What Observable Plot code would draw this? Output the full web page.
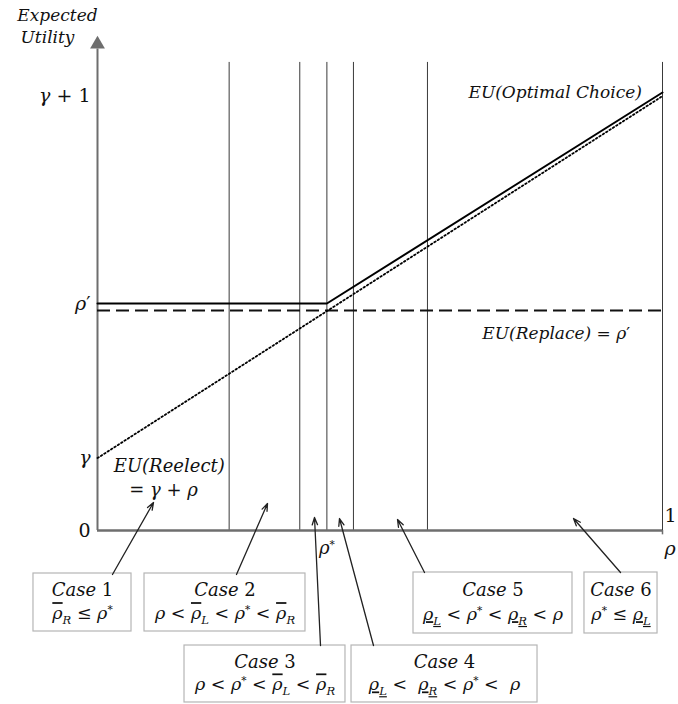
<!DOCTYPE html>
<html>
<head>
<meta charset="utf-8">
<script src="https://cdn.jsdelivr.net/npm/d3@7"></script>
<script src="https://cdn.jsdelivr.net/npm/@observablehq/plot@0.6"></script>
<style>
  html, body { margin: 0; padding: 0; background: #fff; overflow: hidden; }
  svg { display: block; }
</style>
</head>
<body>
<div id="chart"></div>
<script>
// ---- data (ρ on x, expected utility on y) ----
const thresholds = [0.233, 0.358, 0.406, 0.453, 0.584, 1.0];
const rhoStar = 0.406;
const gammaVal = 0.2;
const rhoPrime = 0.608;
const optimalX = [0, 0.406, 1];
const optimalY = [0.627, 0.627, 1.21];
const reelectX = [0, 1];
const reelectY = [0.2, 1.2];
const yTickValues = [0, 0.2, 0.627, 1.2];
const yTickLabels = ["{n|0}", "γ", "ρ{n|′}", "γ {n|+ 1}"];

// case annotation boxes
const caseNames = ["Case {n|1}", "Case {n|2}", "Case {n|3}", "Case {n|4}", "Case {n|5}", "Case {n|6}"];
const caseConds = [
  "{o|ρ}{s|R} ≤ ρ{p|*}",
  "ρ < {o|ρ}{s|L} < ρ{p|*} < {o|ρ}{s|R}",
  "ρ < ρ{p|*} < {o|ρ}{s|L} < {o|ρ}{s|R}",
  "{u|ρ}{us|L} <  {u|ρ}{us|R} < ρ{p|*} <  ρ",
  "{u|ρ}{us|L} < ρ{p|*} < {u|ρ}{us|R} < ρ",
  "ρ{p|*} ≤ {u|ρ}{us|L}"
];
const boxX1 = [-0.1133, 0.0832, 0.1540, 0.4496, 0.5593, 0.8619];
const boxX2 = [0.0602, 0.3681, 0.4389, 0.7788, 0.8407, 0.9912];
const boxY1 = [-0.1188, -0.1188, -0.3177, -0.3177, -0.1160, -0.1160];
const boxY2 = [-0.2790, -0.2790, -0.4751, -0.4751, -0.2845, -0.2845];
const arrowFromX = [0.0265, 0.2460, 0.3947, 0.4885, 0.5788, 0.9257];
const arrowFromY = [-0.1215, -0.1215, -0.3177, -0.3177, -0.1160, -0.1160];
const arrowToX = [0.0991, 0.3009, 0.3841, 0.4283, 0.5310, 0.8425];
const arrowToY = [0.0773, 0.0746, 0.0359, 0.0331, 0.0304, 0.0331];

// ---- build tables ----
const optimal = optimalX.map((x, i) => ({x, y: optimalY[i]}));
const reelect = reelectX.map((x, i) => ({x, y: reelectY[i]}));
const yTicks = yTickValues.map((v, i) => ({v, label: yTickLabels[i]}));
const cases = caseNames.map((name, i) => {
  const top = boxY1[i];
  const rowH = boxY1[i] - boxY2[i];
  return {
    name, cond: caseConds[i],
    x1: boxX1[i], x2: boxX2[i], y1: boxY1[i], y2: boxY2[i],
    cx: (boxX1[i] + boxX2[i]) / 2,
    l1: top - rowH * 0.29, l2: top - rowH * 0.69,
    ax1: arrowFromX[i], ay1: arrowFromY[i], ax2: arrowToX[i], ay2: arrowToY[i]
  };
});

const FONT = "DejaVu Serif";
const FS = 17;
const axisGrey = "#6e6e6e";

const plot = Plot.plot({
  width: 678,
  height: 704,
  marginTop: 0, marginRight: 0, marginBottom: 0, marginLeft: 0,
  x: {domain: [-97 / 565, 581 / 565], axis: null},
  y: {domain: [-174 / 362, 530 / 362], axis: null},
  style: {background: "#fff", fontFamily: FONT},
  marks: [
    // threshold verticals
    Plot.ruleX(thresholds, {x: d => d, y1: 0, y2: 1.293, stroke: "#3a3a3a", strokeWidth: 1}),
    // axes
    Plot.ruleX([0], {y1: 0, y2: 1.33, stroke: axisGrey, strokeWidth: 2}),
    Plot.dot([0], {x: 0, y: 1.343, symbol: "triangle", r: 5.5, fill: axisGrey, stroke: "none"}),
    Plot.ruleY([0], {x1: 0, x2: 1, stroke: axisGrey, strokeWidth: 2.5}),
    Plot.ruleX([1], {y1: -0.012, y2: 0, stroke: axisGrey, strokeWidth: 1.5}),
    // curves
    Plot.ruleY([rhoPrime], {x1: 0, x2: 1, stroke: "#111", strokeWidth: 2, strokeDasharray: "13,6"}),
    Plot.line(reelect, {x: "x", y: "y", stroke: "#000", strokeWidth: 1.8, strokeDasharray: "1.6,2.4"}),
    Plot.line(optimal, {x: "x", y: "y", stroke: "#000", strokeWidth: 2}),
    // y tick labels
    Plot.text(yTicks, {x: -0.0124, y: "v", text: "label", textAnchor: "end", fontSize: 19, fontStyle: "italic", fill: "#111"}),
    // x-axis labels
    Plot.text(["{n|1}"], {x: 1.0035, y: 0.041, text: d => d, textAnchor: "start", fontSize: 19, fill: "#111"}),
    Plot.text(["ρ"], {x: 1.0035, y: -0.05, text: d => d, textAnchor: "start", fontSize: 19, fontStyle: "italic", fill: "#111"}),
    Plot.text(["ρ{p|*}"], {x: rhoStar, y: -0.05, text: d => d, textAnchor: "middle", fontSize: 18, fontStyle: "italic", fill: "#111"}),
    // y axis title
    Plot.text(["Expected"], {x: -0.0708, y: 1.4227, text: d => d, fontSize: FS, fontStyle: "italic", fill: "#111"}),
    Plot.text(["Utility"], {x: -0.0885, y: 1.362, text: d => d, fontSize: FS, fontStyle: "italic", fill: "#111"}),
    // curve labels
    Plot.text(["EU(Optimal Choice)"], {x: 0.6566, y: 1.21, text: d => d, textAnchor: "start", fontSize: FS, fontStyle: "italic", fill: "#111"}),
    Plot.text(["EU(Replace) = ρ{n|′}"], {x: 0.681, y: 0.544, text: d => d, textAnchor: "start", fontSize: FS, fontStyle: "italic", fill: "#111"}),
    Plot.text(["EU(Reelect)"], {x: 0.127, y: 0.177, text: d => d, textAnchor: "middle", fontSize: 18, fontStyle: "italic", fill: "#111"}),
    Plot.text(["= γ + ρ"], {x: 0.117, y: 0.11, text: d => d, textAnchor: "middle", fontSize: 18, fontStyle: "italic", fill: "#111"}),
    // case boxes and arrows
    Plot.rect(cases, {x1: "x1", x2: "x2", y1: "y1", y2: "y2", fill: "#fff", stroke: "#b5b5b5", strokeWidth: 1.2}),
    Plot.arrow(cases, {x1: "ax1", y1: "ay1", x2: "ax2", y2: "ay2", stroke: "#222", strokeWidth: 1.3, headLength: 9, headAngle: 40}),
    Plot.text(cases, {x: "cx", y: "l1", text: "name", fontSize: 18, fontStyle: "italic", fill: "#111"}),
    Plot.text(cases, {x: "cx", y: "l2", text: "cond", fontSize: 17.5, fontStyle: "italic", fill: "#111"})
  ]
});

// ---- rich text post-processing: overline, underline, sub/superscripts ----
const NS = "http://www.w3.org/2000/svg";
function richify(el) {
  const str = el.textContent;
  if (!/\{\w+\|/.test(str)) return;
  const fs = parseFloat(el.getAttribute("font-size") || getComputedStyle(el).fontSize) || FS;
  while (el.firstChild) el.removeChild(el.firstChild);
  const re = /\{(\w+)\|([^}]*)\}/g;
  let last = 0, m, shift = 0;
  const add = (txt, kind) => {
    if (!txt) return;
    const t = document.createElementNS(NS, "tspan");
    t.textContent = txt;
    let target = 0;
    if (kind === "s" || kind === "us") { t.setAttribute("font-size", fs * 0.68); target = fs * 0.28; }
    if (kind === "p") { t.setAttribute("font-size", fs * 0.62); target = -fs * 0.38; }
    if (kind === "o") t.setAttribute("text-decoration", "overline");
    if (kind === "u" || kind === "us") t.setAttribute("text-decoration", "underline");
    if (kind === "n") t.setAttribute("font-style", "normal");
    if (target !== shift) { t.setAttribute("dy", target - shift); shift = target; }
    el.appendChild(t);
  };
  while ((m = re.exec(str))) {
    add(str.slice(last, m.index), "");
    add(m[2], m[1]);
    last = re.lastIndex;
  }
  add(str.slice(last), "");
}
plot.querySelectorAll("text").forEach(el => {
  if (el.querySelector("tspan")) return;
  richify(el);
});

document.getElementById("chart").appendChild(plot);
</script>
</body>
</html>
